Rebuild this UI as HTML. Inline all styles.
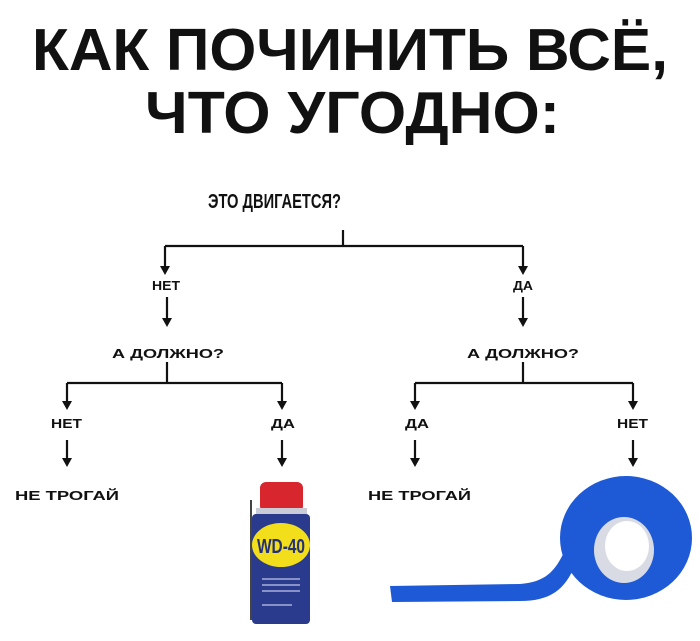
<!DOCTYPE html>
<html><head><meta charset="utf-8"><style>
html,body{margin:0;padding:0;background:#fff}
svg{display:block}
text{font-family:"Liberation Sans",sans-serif;font-weight:bold;fill:#111}
</style></head><body>
<svg width="700" height="641" viewBox="0 0 700 641" xmlns="http://www.w3.org/2000/svg">
<text x="32" y="70" font-size="59" textLength="636" lengthAdjust="spacingAndGlyphs">КАК ПОЧИНИТЬ ВСЁ,</text>
<text x="145" y="133" font-size="59" textLength="415" lengthAdjust="spacingAndGlyphs">ЧТО УГОДНО:</text>
<text x="208" y="208" font-size="20" textLength="133" lengthAdjust="spacingAndGlyphs">ЭТО ДВИГАЕТСЯ?</text>
<g stroke="#111" stroke-width="2.2" fill="none">
<path d="M343 230V246M165 246H523M165 246V268M523 246V268"/>
<path d="M167 297V320M523 297V320"/>
<path d="M167 362V383M523 362V383M67 383H282M415 383H633M67 383V403M282 383V403M415 383V403M633 383V403"/>
<path d="M67 440V460M282 440V460M415 440V460M633 440V460"/>
</g>
<g fill="#111">
<path d="M160 266h10l-5 9z M518 266h10l-5 9z M162 318h10l-5 9z M518 318h10l-5 9z"/>
<path d="M62 401h10l-5 9z M277 401h10l-5 9z M410 401h10l-5 9z M628 401h10l-5 9z"/>
<path d="M62 458h10l-5 9z M277 458h10l-5 9z M410 458h10l-5 9z M628 458h10l-5 9z"/>
</g>
<g font-size="13">
<text x="152" y="290" textLength="28" lengthAdjust="spacingAndGlyphs">НЕТ</text>
<text x="513" y="290" textLength="20" lengthAdjust="spacingAndGlyphs">ДА</text>
<text x="112" y="358" textLength="112" lengthAdjust="spacingAndGlyphs">А ДОЛЖНО?</text>
<text x="467" y="358" textLength="112" lengthAdjust="spacingAndGlyphs">А ДОЛЖНО?</text>
<text x="51" y="428" textLength="31" lengthAdjust="spacingAndGlyphs">НЕТ</text>
<text x="271" y="428" textLength="24" lengthAdjust="spacingAndGlyphs">ДА</text>
<text x="405" y="428" textLength="24" lengthAdjust="spacingAndGlyphs">ДА</text>
<text x="617" y="428" textLength="31" lengthAdjust="spacingAndGlyphs">НЕТ</text>
<text x="15" y="500" textLength="104" lengthAdjust="spacingAndGlyphs">НЕ ТРОГАЙ</text>
<text x="368" y="500" textLength="103" lengthAdjust="spacingAndGlyphs">НЕ ТРОГАЙ</text>
</g>
<rect x="260" y="482" width="43" height="30" rx="6" fill="#d8262e"/>
<rect x="256" y="508" width="51" height="8" fill="#c9cbd6"/>
<rect x="252" y="514" width="58" height="110" rx="4" fill="#2a3a8c"/>
<rect x="250" y="500" width="2" height="120" fill="#444"/>
<ellipse cx="281" cy="545" rx="29" ry="22" fill="#f2de1a"/>
<text x="257" y="553" font-size="20" textLength="48" lengthAdjust="spacingAndGlyphs" style="fill:#23307a">WD-40</text>
<rect x="262" y="578" width="38" height="2" fill="#8891c8"/>
<rect x="262" y="584" width="38" height="2" fill="#8891c8"/>
<rect x="262" y="590" width="38" height="2" fill="#8891c8"/>
<rect x="262" y="604" width="30" height="2" fill="#8891c8"/>
<path d="M390 586 L520 584 C545 582 555 572 565 550 L575 565 C565 590 550 601 520 601 L392 602 Z" fill="#1f5ad6"/>
<ellipse cx="626" cy="538" rx="66" ry="62" fill="#1f5ad6"/>
<ellipse cx="624" cy="550" rx="30" ry="33" fill="#d8dbe4"/>
<ellipse cx="627" cy="546" rx="22" ry="25" fill="#fff"/>
</svg>
</body></html>
